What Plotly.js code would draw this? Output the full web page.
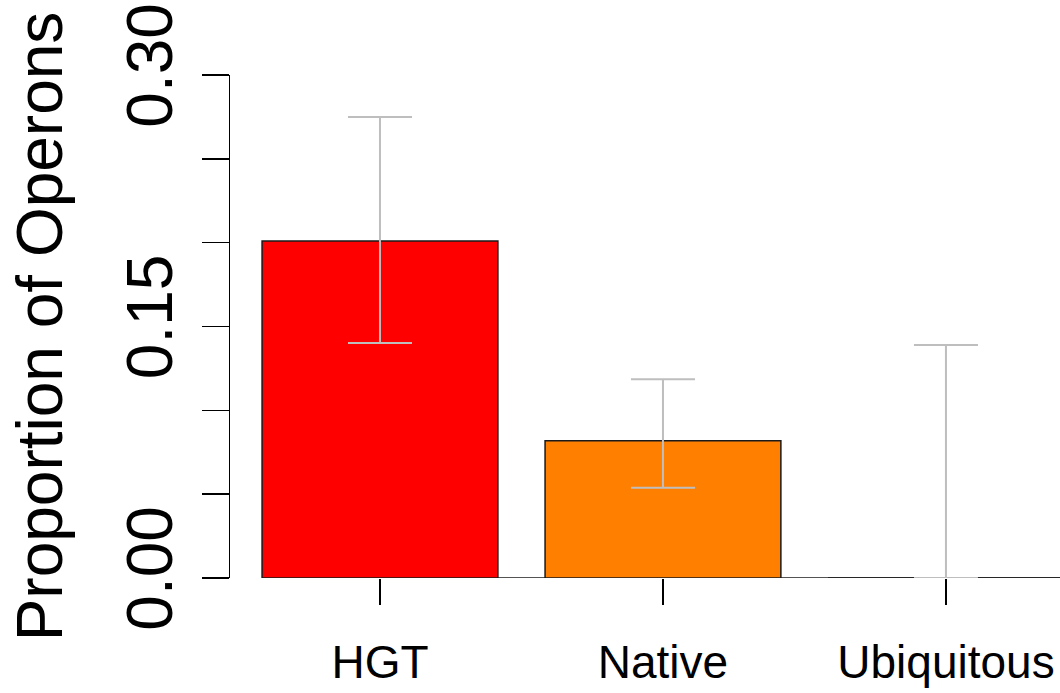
<!DOCTYPE html>
<html>
<head>
<meta charset="utf-8">
<script src="https://cdn.plot.ly/plotly-3.0.1.min.js"></script>
<style>
html,body{margin:0;padding:0;background:#fff;}
#chart{width:1060px;height:693px;}
</style>
</head>
<body>
<div id="chart"></div>
<script>
// Data
const categories = ["HGT", "Native", "Ubiquitous"];
const proportions = [0.201, 0.0819, 0.0];
const upperCI = [0.2749, 0.1185, 0.139];
const lowerCI = [0.1402, 0.0539, 0.0];
const barColors = ["#FF0000", "#FF7F00", "#BEBEBE"];
const yTickVals = [0, 0.05, 0.10, 0.15, 0.20, 0.25, 0.30];
const yTickText = ["0.00", "", "", "0.15", "", "", "0.30"];

const barWidth = 1 / 1.2;
const xRange = [-0.530, 2.403];

const errPlus = proportions.map((v, i) => upperCI[i] - v);
const errMinus = proportions.map((v, i) => v - lowerCI[i]);

const trace = {
  type: "bar",
  x: categories,
  y: proportions,
  width: barWidth,
  marker: { color: barColors, line: { color: "#1a1a1a", width: 1.5 } },
  error_y: {
    type: "data",
    symmetric: false,
    array: errPlus,
    arrayminus: errMinus,
    color: "#BEBEBE",
    thickness: 2,
    width: 32
  },
  hoverinfo: "x+y"
};

const font = "'Liberation Sans', Arial, Helvetica, sans-serif";

const layout = {
  width: 1060,
  height: 693,
  margin: { l: 230, r: 0, t: 75, b: 115, pad: 0 },
  paper_bgcolor: "#ffffff",
  plot_bgcolor: "#ffffff",
  showlegend: false,
  font: { family: font, color: "#000000" },
  xaxis: {
    type: "category",
    range: xRange,
    showgrid: false,
    zeroline: false,
    showline: false,
    ticks: "outside",
    ticklen: 26,
    tickwidth: 1.5,
    tickcolor: "#000000",
    tickfont: { family: font, size: 46, color: "#000000" },
    ticklabelstandoff: 18,
    fixedrange: true
  },
  yaxis: {
    range: [0, 0.30],
    tickvals: yTickVals,
    ticktext: yTickText,
    tickangle: -90,
    showgrid: false,
    zeroline: false,
    showline: true,
    linecolor: "#000000",
    linewidth: 1.5,
    ticks: "outside",
    ticklen: 27,
    tickwidth: 1.5,
    tickcolor: "#000000",
    tickfont: { family: font, size: 64, color: "#000000" },
    ticklabelstandoff: 4,
    title: {
      text: "Proportion of Operons",
      font: { family: font, size: 64, color: "#000000" },
      standoff: 30
    },
    automargin: false,
    fixedrange: true
  },
  shapes: [{
    type: "line",
    xref: "x",
    yref: "y",
    x0: -barWidth / 2,
    x1: xRange[1],
    y0: 0,
    y1: 0,
    layer: "below",
    line: { color: "#1a1a1a", width: 1.5 }
  }]
};

Plotly.newPlot("chart", [trace], layout, { displayModeBar: false, staticPlot: true });
</script>
</body>
</html>
